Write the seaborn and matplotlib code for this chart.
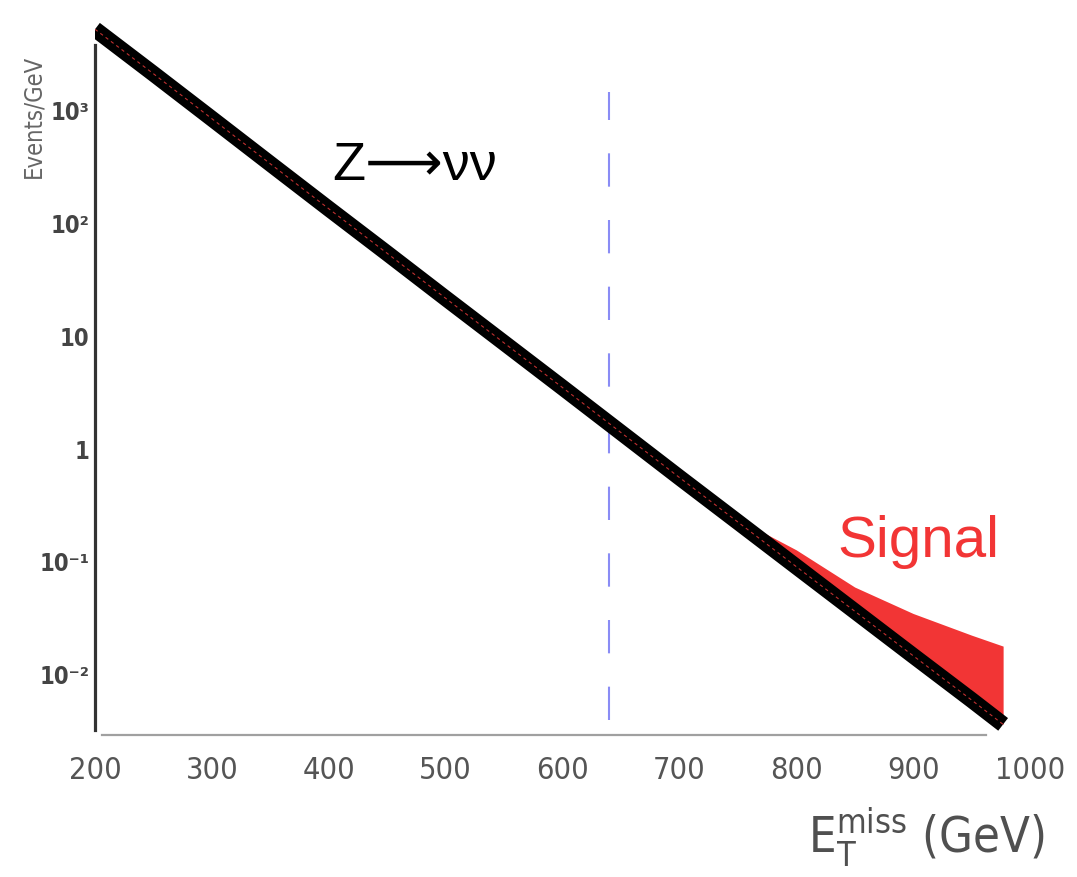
import numpy as np
import pandas as pd
import seaborn as sns
import matplotlib
matplotlib.use("Agg")
import matplotlib.pyplot as plt
from matplotlib.ticker import NullLocator, FixedLocator

# --- data -------------------------------------------------------------
met = [200, 250, 300, 350, 400, 450, 500, 550, 600, 650, 700,
       750, 800, 850, 900, 950, 977]
bkg_znunu = [5200, 2100, 840, 335, 134, 54, 21.6, 8.7, 3.5, 1.40, 0.56,
             0.226, 0.091, 0.0367, 0.0148, 0.0060, 0.00365]

sig_met = [750, 800, 850, 900, 950, 977]
sig_plus_bkg = [0.24, 0.128, 0.060, 0.035, 0.0225, 0.018]

met_cut = 640

x_ticks = [200, 300, 400, 500, 600, 700, 800, 900, 1000]
y_ticks = [1e-2, 1e-1, 1, 10, 1e2, 1e3]
y_tick_labels = ["10\u207b\u00b2", "10\u207b\u00b9", "1", "10", "10\u00b2", "10\u00b3"]

# --- style ------------------------------------------------------------
sns.set_style("white")
plt.rcParams["font.family"] = ["DejaVu Sans"]
plt.rcParams["font.stretch"] = "condensed"
plt.rcParams["mathtext.fontset"] = "custom"
plt.rcParams["mathtext.rm"] = "DejaVu Sans:stretch=condensed"

fig = plt.figure(figsize=(10.77, 8.77), dpi=100)
W, H = 1077, 877
ax = fig.add_axes([95 / W, (H - 735) / H, 935 / W, 725 / H])

df_bkg = pd.DataFrame({"met": met, "events": bkg_znunu})
bkg_lookup = dict(zip(met, bkg_znunu))
sig_floor = [bkg_lookup[m] for m in sig_met]

# signal stacked on top of the Z->nunu background
ax.fill_between(sig_met, sig_floor, sig_plus_bkg, color="#f23535",
                linewidth=0, zorder=1)

# background: thick black band with a thin red dashed centre line
sns.lineplot(data=df_bkg, x="met", y="events", ax=ax, color="black",
             linewidth=11.5, zorder=2, solid_capstyle="butt")
sns.lineplot(data=df_bkg, x="met", y="events", ax=ax, color="#c03030",
             linewidth=0.8, linestyle=(0, (3, 3)), zorder=3)

# selection cut
ax.axvline(met_cut, ymin=0.021, ymax=0.887, color="#8a8cf5",
           linewidth=1.5, linestyle=(0, (16, 16)), zorder=0)

ax.set_yscale("log")
ax.set_xlim(200, 1000)
ax.set_ylim(2.94e-3, 7700)

# axes frame
for side in ("top", "right"):
    ax.spines[side].set_visible(False)
ax.spines["left"].set_color("#333333")
ax.spines["left"].set_linewidth(2.3)
ax.spines["left"].set_bounds(3.26e-3, 3760)
ax.spines["bottom"].set_color("#a0a0a0")
ax.spines["bottom"].set_linewidth(1.6)
ax.spines["bottom"].set_bounds(206, 962)

ax.set_xticks(x_ticks)
ax.xaxis.set_minor_locator(FixedLocator([200]))
ax.tick_params(axis="x", which="major", length=0, pad=15,
               labelsize=22, labelcolor="#555555")
ax.tick_params(axis="x", which="minor", length=11, width=1.5,
               color="#a0a0a0", direction="out")

ax.set_yticks(y_ticks)
ax.set_yticklabels(y_tick_labels)
ax.yaxis.set_minor_locator(NullLocator())
ax.tick_params(axis="y", which="major", length=0, pad=4,
               labelsize=17, labelcolor="#444444")
for lbl in ax.get_yticklabels():
    lbl.set_fontweight("bold")

ax.set_xlabel(r"E$_\mathregular{T}^\mathregular{miss}$ (GeV)", fontsize=35,
              color="#505050", ha="right", va="baseline")
ax.xaxis.set_label_coords((1045 - 95) / 935, (735 - 853) / 725)

ax.set_ylabel("Events/GeV", fontsize=17, color="#666666")
ax.yaxis.set_label_coords(-50 / 935, (735 - 116) / 725)

ax.text(403, 240, "Z\u27f6\u03bd\u03bd", fontsize=39, color="black",
        family=["Liberation Sans", "DejaVu Sans"], fontstretch="normal",
        va="baseline", ha="left")
ax.text(835, 0.111, "Signal", fontsize=42, color="#f23535",
        family=["Liberation Sans", "DejaVu Sans"], fontstretch="normal",
        va="baseline", ha="left")

fig.savefig("out.png", dpi=100)
